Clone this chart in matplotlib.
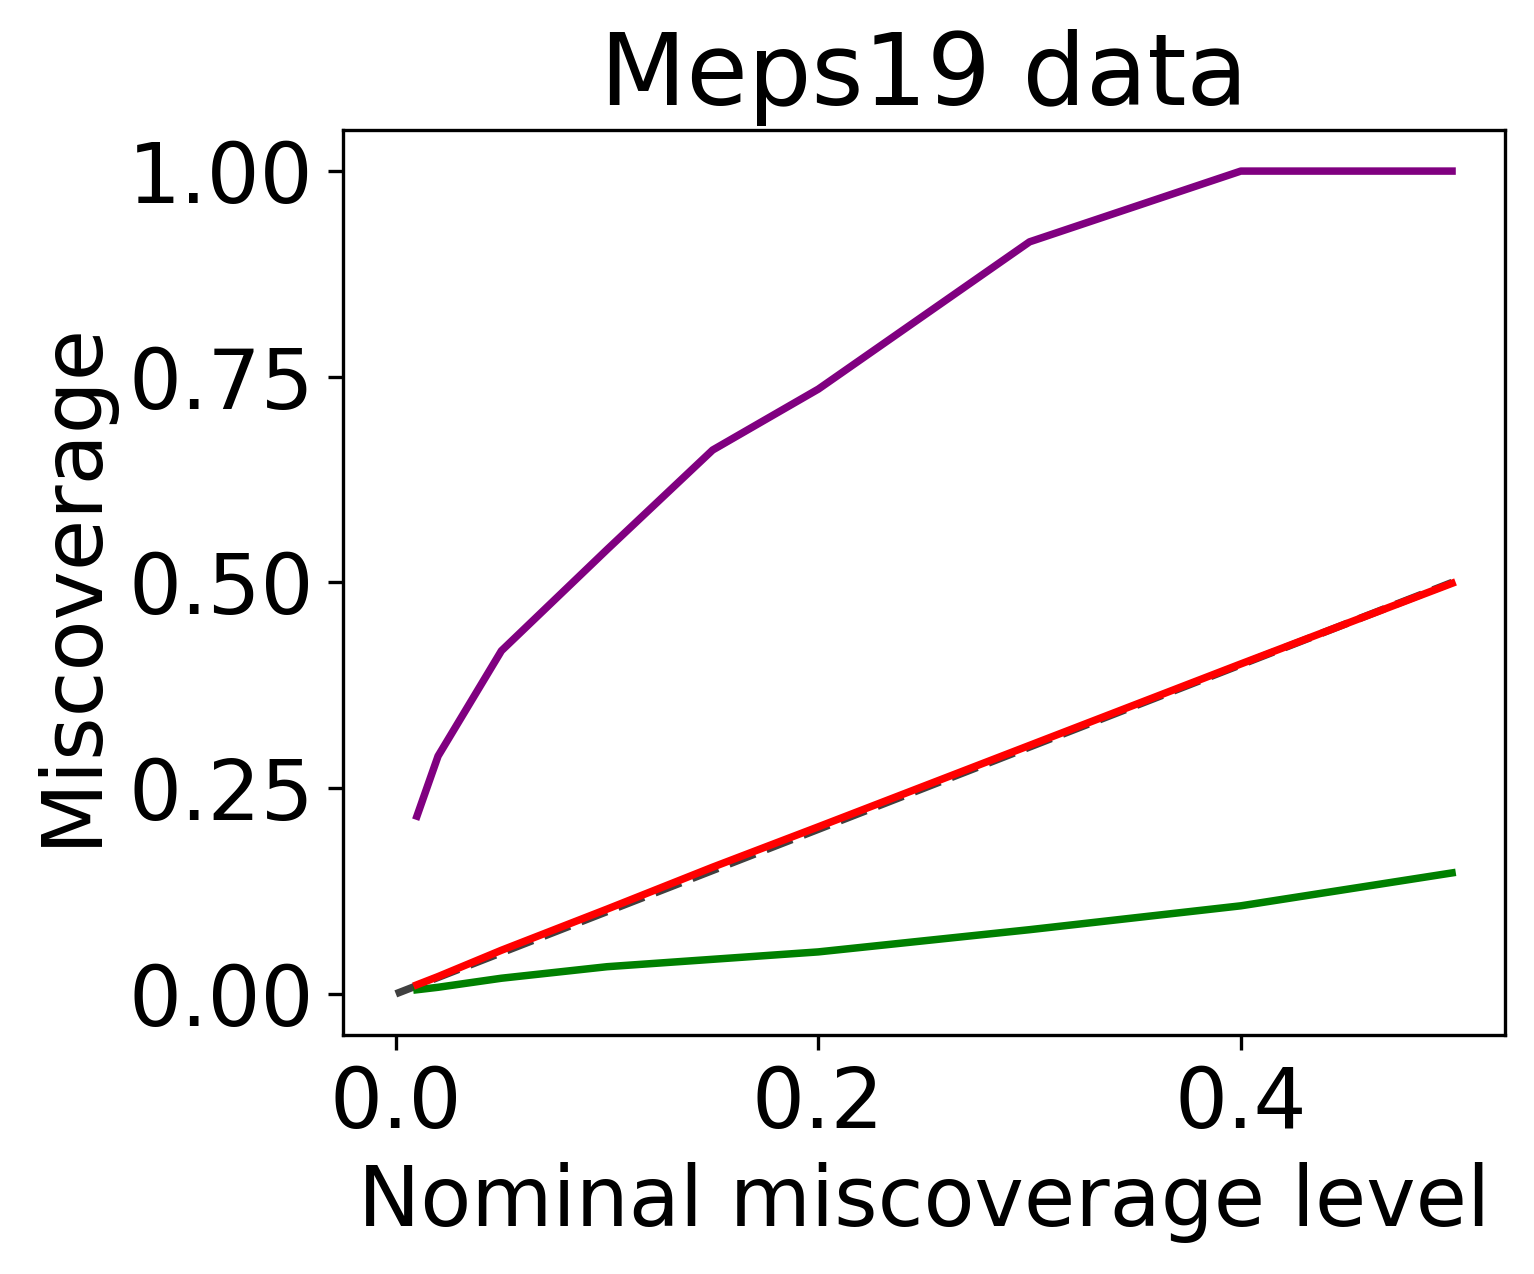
import matplotlib
matplotlib.use('Agg')
import matplotlib.pyplot as plt
import numpy as np

# nominal levels
alphas = [0.01, 0.02, 0.05, 0.1, 0.15, 0.2, 0.3, 0.4, 0.5]

# empirical miscoverage per method
purple_vals = [0.216, 0.289, 0.417, 0.540, 0.661, 0.735, 0.914, 1.0, 1.0]
red_vals = [0.011, 0.021, 0.053, 0.103, 0.154, 0.203, 0.302, 0.401, 0.499]
green_vals = [0.005, 0.008, 0.019, 0.033, 0.042, 0.051, 0.078, 0.107, 0.147]

# std (tiny bands)
purple_sd = [0.004, 0.004, 0.004, 0.004, 0.004, 0.003, 0.003, 0.0, 0.0]
red_sd = [0.003, 0.003, 0.003, 0.003, 0.003, 0.003, 0.003, 0.003, 0.003]
green_sd = [0.002, 0.002, 0.002, 0.002, 0.002, 0.002, 0.002, 0.002, 0.002]

fig = plt.figure(figsize=(1534 / 300, 1274 / 300), dpi=300)
ax = fig.add_axes([0.2236, 0.1876, 0.7574, 0.7104])

x = np.array(alphas)
ax.plot([0, 0.5], [0, 0.5], '--', color='black', alpha=0.75, lw=1.8)
for vals, sd, c in [(purple_vals, purple_sd, 'purple'),
                    (green_vals, green_sd, 'green'),
                    (red_vals, red_sd, 'red')]:
    vals = np.array(vals)
    sd = np.array(sd)
    ax.plot(x, vals, color=c, lw=1.8)
    ax.fill_between(x, vals - sd, vals + sd, color=c, alpha=0.2, lw=0)

ax.set_xticks([0.0, 0.2, 0.4])
ax.set_yticks([0.0, 0.25, 0.5, 0.75, 1.0])
ax.tick_params(labelsize=20)
ax.set_xlabel('Nominal miscoverage level', fontsize=20)
ax.set_ylabel('Miscoverage', fontsize=20)
ax.set_title('Meps19 data', fontsize=24)

fig.savefig('out.png', dpi=300)
